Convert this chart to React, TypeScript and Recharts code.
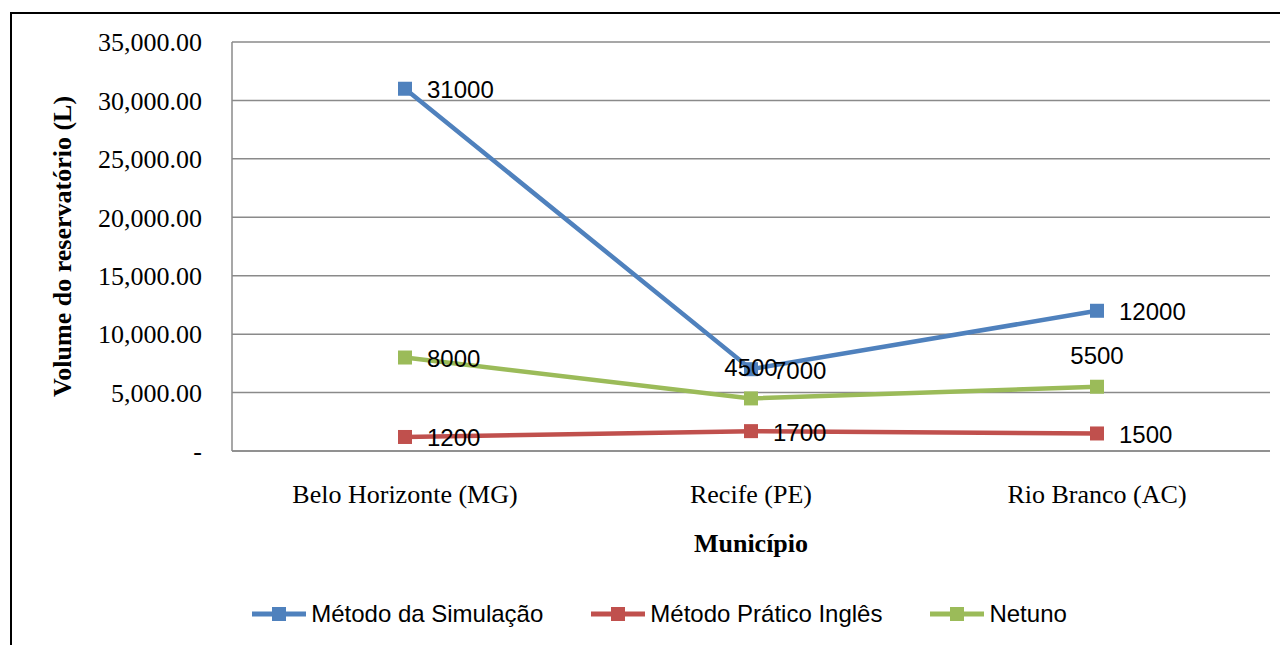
import React from "react";
import { LineChart, Line, XAxis, YAxis, CartesianGrid, Legend, LabelList } from "recharts";

const municipios = ["Belo Horizonte (MG)", "Recife (PE)", "Rio Branco (AC)"];
const simulacao = [31000, 7000, 12000];
const praticoIngles = [1200, 1700, 1500];
const netuno = [8000, 4500, 5500];
const yTicks = [0, 5000, 10000, 15000, 20000, 25000, 30000, 35000];

const series = [
  { key: "simulacao", name: "Método da Simulação", color: "#4F81BD" },
  { key: "pratico", name: "Método Prático Inglês", color: "#C0504D" },
  { key: "netuno", name: "Netuno", color: "#9BBB59" },
];

const data = municipios.map((m, i) => ({
  municipio: m,
  simulacao: simulacao[i],
  pratico: praticoIngles[i],
  netuno: netuno[i],
}));

const SERIF = "'Liberation Serif', 'Times New Roman', serif";
const SANS = "'Liberation Sans', Arial, sans-serif";

const fmtY = (v: number) =>
  v === 0 ? "-" : v.toLocaleString("en-US", { minimumFractionDigits: 2, maximumFractionDigits: 2 });

// Netuno labels at Recife and Rio Branco sit above the point, the rest to the right
const makeLabel = (seriesKey: string) => (props: any) => {
  const { x, y, value, index } = props;
  const above = seriesKey === "netuno" && index > 0;
  return (
    <text
      x={above ? x : x + 22}
      y={above ? y - 31 : y + 1}
      textAnchor={above ? "middle" : "start"}
      dominantBaseline="central"
      fontFamily={SANS}
      fontSize={24}
      fill="#000"
    >
      {value}
    </text>
  );
};

const squareDot = (color: string) => (p: any) => (
  <rect key={`dot-${p.index}`} x={p.cx - 7} y={p.cy - 7} width={14} height={14} fill={color} />
);

function LegendContent() {
  return (
    <div style={{ display: "flex", justifyContent: "center", alignItems: "center", height: 40, paddingLeft: 40 }}>
      {series.map((s, i) => (
        <div key={s.key} style={{ display: "flex", alignItems: "center", marginRight: i < 2 ? 47 : 0 }}>
          <svg width={56} height={20} style={{ marginRight: 4 }}>
            <line x1={1} y1={10} x2={55} y2={10} stroke={s.color} strokeWidth={5} />
            <rect x={21} y={3} width={14} height={14} fill={s.color} />
          </svg>
          <span style={{ fontFamily: SANS, fontSize: 24, color: "#000" }}>{s.name}</span>
        </div>
      ))}
    </div>
  );
}

export default function App() {
  return (
    <div style={{ position: "relative", width: 1280, height: 637, overflow: "hidden", background: "#fff" }}>
      <div
        style={{
          position: "absolute",
          left: 2,
          top: 4,
          width: 1400,
          height: 800,
          borderTop: "2px solid #000",
          borderLeft: "2px solid #000",
        }}
      />
      <LineChart
        width={1280}
        height={637}
        data={data}
        margin={{ top: 34, right: 18, bottom: 11, left: 0 }}
        style={{ position: "absolute", left: 0, top: 0 }}
      >
        <CartesianGrid vertical={false} stroke="#8A8A8A" strokeWidth={1.5} />
        <XAxis
          dataKey="municipio"
          height={143}
          padding={{ left: 173, right: 173 }}
          tickLine={false}
          tickSize={0}
          tickMargin={34}
          axisLine={{ stroke: "#8A8A8A", strokeWidth: 1.5 }}
          tick={{ fontFamily: SERIF, fontSize: 26, fill: "#000" }}
          label={{
            value: "Município",
            position: "insideTop",
            offset: 83,
            style: { fontFamily: SERIF, fontSize: 26, fontWeight: "bold", fill: "#000" },
          }}
        />
        <YAxis
          width={224}
          domain={[0, 35000]}
          ticks={yTicks}
          interval={0}
          tickFormatter={fmtY}
          tickLine={false}
          tickSize={0}
          tickMargin={30}
          axisLine={{ stroke: "#8A8A8A", strokeWidth: 1.5 }}
          tick={{ fontFamily: SERIF, fontSize: 26, fill: "#000" }}
          label={({ viewBox }: any) => {
            const cx = 54;
            const cy = viewBox.y + viewBox.height / 2;
            return (
              <text
                x={cx}
                y={cy}
                transform={`rotate(-90 ${cx} ${cy})`}
                textAnchor="middle"
                dominantBaseline="central"
                fontFamily={SERIF}
                fontSize={26}
                fontWeight="bold"
                fill="#000"
              >
                Volume do reservatório (L)
              </text>
            );
          }}
        />
        <Legend verticalAlign="bottom" height={40} content={<LegendContent />} />
        {series.map((s) => (
          <Line
            key={s.key}
            type="linear"
            dataKey={s.key}
            name={s.name}
            stroke={s.color}
            strokeWidth={4.5}
            dot={squareDot(s.color)}
            activeDot={false}
            isAnimationActive={false}
          >
            <LabelList dataKey={s.key} content={makeLabel(s.key)} />
          </Line>
        ))}
      </LineChart>
    </div>
  );
}
